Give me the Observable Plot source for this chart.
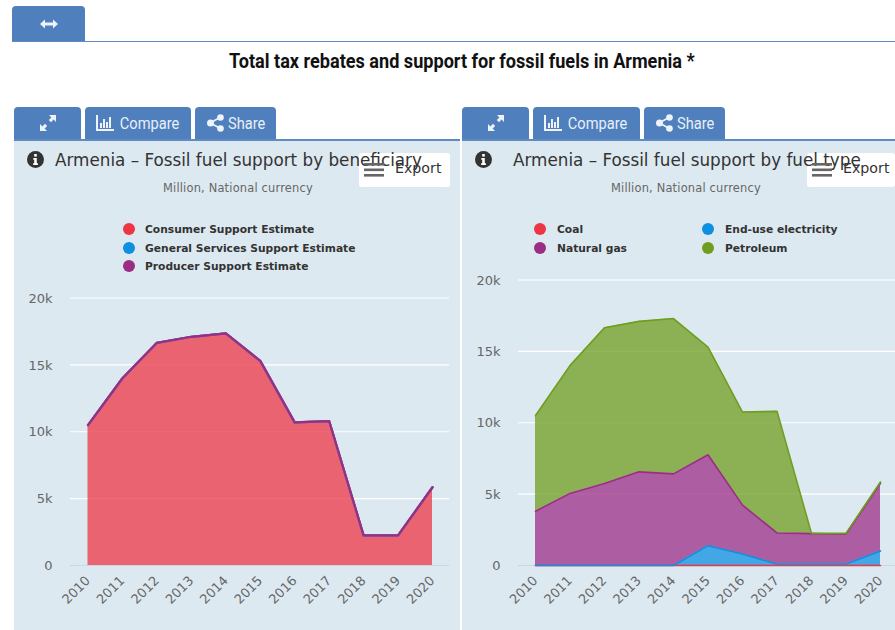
<!DOCTYPE html>
<html><head><meta charset="utf-8">
<script src="https://cdn.jsdelivr.net/npm/d3@7"></script>
<script src="https://cdn.jsdelivr.net/npm/@observablehq/plot@0.6"></script>
<style>
html,body{margin:0;padding:0;background:#fff;overflow:hidden}
#page{position:relative;width:895px;height:630px;overflow:hidden;font-family:"DejaVu Sans",sans-serif}
.abs{position:absolute;white-space:nowrap}
.tab{position:absolute;background:#4f7fbd;border-radius:4px 4px 0 0;color:#e9f0f8;font:17px/1 Roboto,sans-serif;display:flex;align-items:center;justify-content:center;box-sizing:border-box}
.tab span{display:inline-block;transform:scaleX(.86);margin:0 -4px 0 -2px}
.line{position:absolute;background:#5f8ac3;height:1.5px}
.panel{position:absolute;background:#dde9f1;top:140px;height:490px}
.ctitle{position:absolute;top:150px;font:16.8px/20px "DejaVu Sans";color:#333;white-space:nowrap;z-index:4}
.sub{position:absolute;top:181px;font:11.4px/14px "DejaVu Sans";letter-spacing:.2px;color:#666;white-space:nowrap;z-index:4}
.exp{position:absolute;top:153px;height:34px;background:#fff;border-radius:3px;z-index:3}
.exptxt{position:absolute;top:160px;font:14.2px/16px "DejaVu Sans";color:#333;z-index:5}
.info{position:absolute;top:151px;z-index:5}
.burger{position:absolute;top:162px;z-index:5}
.leg{position:absolute;font:bold 10.7px/14px "DejaVu Sans";color:#333;white-space:nowrap;z-index:4}
.dot{position:absolute;width:12px;height:12px;border-radius:50%;z-index:4}
.chart{position:absolute;z-index:2;top:270px}
.chart svg{display:block;overflow:visible}
</style></head><body>
<div id="page"></div>
<script>
// ---- data
const years = [2010,2011,2012,2013,2014,2015,2016,2017,2018,2019,2020];
const consumer = [10500,14000,16650,17100,17350,15300,10700,10800,2250,2250,5850];
const general  = [0,0,0,0,0,0,0,0,0,0,0];
const producer = [0,0,0,0,0,0,0,0,0,0,0];
const coal        = [0,0,0,0,0,0,0,0,0,0,0];
const electricity = [0,0,0,0,0,1390,800,100,100,100,1020];
const gas         = [3800,5050,5750,6560,6420,6370,3430,2180,2130,2100,4730];
const petroleum   = [6700,8950,10900,10540,10880,7540,6520,8520,20,50,100];
const yTicks = [0,5000,10000,15000,20000];
const colors = {red:"#ee3544",blue:"#0f8fe0",purple:"#9c2d85",green:"#6f9e1f"};
const legendLeft = [["Consumer Support Estimate",colors.red],["General Services Support Estimate",colors.blue],["Producer Support Estimate",colors.purple]];
const legendRight = [["Coal",colors.red],["End-use electricity",colors.blue],["Natural gas",colors.purple],["Petroleum",colors.green]];
const seriesLeft = [["Consumer",consumer,colors.red],["General",general,colors.blue],["Producer",producer,colors.purple]];
const seriesRight = [["Coal",coal,colors.red],["Electricity",electricity,colors.blue],["Gas",gas,colors.purple],["Petroleum",petroleum,colors.green]];

const page = document.getElementById("page");
function el(cls, style, html){
  const d=document.createElement("div"); d.className=cls; d.style.cssText=style||""; if(html!=null) d.innerHTML=html; page.appendChild(d); return d;
}
const icoExpand = `<svg width="18" height="18" viewBox="0 0 18 18" fill="#eef3f9"><path d="M10 1h7v7l-2.400-2.400-2.600 2.600-2.200-2.200 2.600-2.600zM8 17H1v-7l2.400 2.400L6 9.800 8.200 12l-2.600 2.600z"/></svg>`;
const icoArrows = `<svg width="18" height="10" viewBox="0 0 18 10" fill="#eef3f9"><path d="M0 5l5-4.500V3.500h8V.5L18 5l-5 4.500V6.500H5v3z"/></svg>`;
const icoChart = `<svg width="18" height="16" viewBox="0 0 18 16" fill="#eef3f9" style="margin-right:3px"><path d="M0 0h2v14h16v2H0z"/><rect x="4" y="8" width="2" height="5"/><rect x="7" y="4" width="2" height="9"/><rect x="10" y="7" width="2" height="6"/><rect x="13" y="2" width="2" height="11"/></svg>`;
const icoShare = `<svg width="17" height="18" viewBox="0 0 17 18" fill="#eef3f9" style="margin-right:3px"><circle cx="3.500" cy="9" r="3.500"/><circle cx="13.500" cy="3.500" r="3.300"/><circle cx="13.500" cy="14.500" r="3.300"/><path d="M3 8l10-5.500.8 1.600-10 5.500zM3.800 8.200l10 5.500-.8 1.600-10-5.500z"/></svg>`;
const icoInfo = `<svg width="17" height="17" viewBox="0 0 17 17"><circle cx="8.500" cy="8.500" r="8.500" fill="#333"/><rect x="7.200" y="3" width="2.600" height="2.600" fill="#fff"/><path d="M6.300 7h3.500v5.200h1.100V14H6.100v-1.800h1.100V8.800H6.300z" fill="#fff"/></svg>`;
const icoBurger = `<svg width="20" height="14" viewBox="0 0 20 14" fill="#666"><rect width="20" height="2.600" y="0"/><rect width="20" height="2.600" y="5.500"/><rect width="20" height="2.600" y="11"/></svg>`;

// page chrome
el("tab","left:12px;top:6px;width:73px;height:35px",icoArrows);
el("line","left:12px;top:40.500px;width:883px");
el("abs","left:229px;top:49px;font:bold 20px/24px Roboto;color:#111;transform:scaleX(.905);transform-origin:0 0","Total tax rebates and support for fossil fuels in Armenia *");

function chrome(o){
  el("panel",`left:${o.left}px;width:${o.w}px`);
  el("line",`left:${o.left}px;top:139px;width:${o.w}px`);
  el("tab",`left:${o.left}px;top:107px;width:67px;height:32px`,icoExpand);
  el("tab",`left:${o.left+71}px;top:107px;width:${o.cw}px;height:32px`,icoChart+"<span>Compare</span>");
  el("tab",`left:${o.left+71+o.cw+4}px;top:107px;width:81px;height:32px`,icoShare+"<span>Share</span>");
  el("info",`left:${o.left+13}px`,icoInfo);
  el("ctitle",`left:${o.tx}px`,o.title);
  el("sub",`left:${o.sx}px`,"Million, National currency");
  el("exp",`left:${o.ex}px;width:${o.ew}px`);
  el("burger",`left:${o.ex+5}px`,icoBurger);
  el("exptxt",`left:${o.ex+36}px`,"Export");
}
chrome({left:14,w:446,cw:106,tx:55,sx:163,ex:359,ew:91,title:"Armenia – Fossil fuel support by beneficiary"});
chrome({left:462,w:433,cw:107,tx:513,sx:611,ex:807,ew:88,title:"Armenia – Fossil fuel support by fuel type"});

// legends
[[legendLeft[0],123,229],[legendLeft[1],123,248],[legendLeft[2],123,266]].forEach(([[t,c],x,y])=>{
  el("dot",`left:${x}px;top:${y-6}px;background:${c}`); el("leg",`left:${x+22}px;top:${y-6}px`,t);
});
[[legendRight[0],534,229],[legendRight[1],702,229],[legendRight[2],534,248],[legendRight[3],702,248]].forEach(([[t,c],x,y])=>{
  el("dot",`left:${x}px;top:${y-6}px;background:${c}`); el("leg",`left:${x+23}px;top:${y-6}px`,t);
});

// charts
function rows(series){
  return series.flatMap(([name,vals,color])=>years.map((year,i)=>({year,name,value:vals[i],color})));
}
function stackChart(o){
  const data = rows(o.series);
  const names = o.series.map(s=>s[0]);
  const fmt = d => d===0 ? "0" : d/1000+"k";
  const top = 270;
  const plot = Plot.plot({
    width:o.width, height:630-top,
    marginLeft:o.gridL-o.left, marginRight:o.left+o.width-o.gridR,
    marginTop:5, marginBottom:630-565,
    style:{background:"transparent",fontFamily:"DejaVu Sans",overflow:"visible"},
    x:{type:"linear",domain:[2010,2020],range:[o.x0-o.left,o.x1-o.left]},
    y:{domain:[0,20000],range:[565-top,o.y20-top]},
    color:{domain:names,range:o.series.map(s=>s[2])},
    marks:[
      Plot.ruleY(yTicks.slice(1),{stroke:"#fff",strokeWidth:1.2}),
      Plot.ruleY([0],{stroke:"#ccd6eb",strokeWidth:1.2}),
      Plot.areaY(data,{x:"year",y:"value",z:"name",fill:"name",fillOpacity:.75,order:names}),
      Plot.lineY(data,Plot.stackY2({x:"year",y:"value",z:"name",stroke:"name",strokeWidth:o.sw,order:names})),
      Plot.axisY({ticks:yTicks,tickFormat:fmt,tickSize:0,tickPadding:o.gridL-o.labelR,fontSize:13,color:"#666",label:null,anchor:"left",dy:0.5}),
      Plot.axisX({ticks:years,tickFormat:d=>String(d),tickSize:0,tickRotate:-45,tickPadding:13,fontSize:13,color:"#666",label:null,anchor:"bottom"})
    ]
  });
  const wrap = el("chart",`left:${o.left}px`);
  wrap.appendChild(plot);
}
stackChart({series:seriesLeft,left:14,width:446,gridL:70,gridR:449,x0:87.5,x1:432,y20:297.500,labelR:52,sw:2.2});
stackChart({series:seriesRight,left:462,width:433,gridL:518,gridR:895,x0:535,x1:880,y20:279.500,labelR:500,sw:1.6});
</script>
</body></html>
